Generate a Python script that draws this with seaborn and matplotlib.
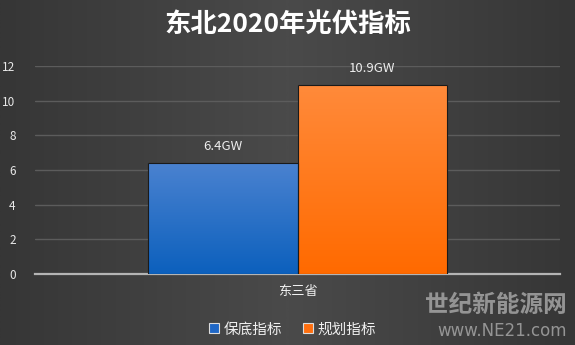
import numpy as np
import pandas as pd
import matplotlib
matplotlib.use("Agg")
import matplotlib.pyplot as plt
import seaborn as sns

categories = ["东三省"]
series_names = ["保底指标", "规划指标"]
values = [6.4, 10.9]
value_labels = ["6.4GW", "10.9GW"]
colors = ["#1f67c6", "#ff6f0f"]
yticks = [0, 2, 4, 6, 8, 10, 12]

df = pd.DataFrame({"region": categories * len(series_names),
                   "series": series_names,
                   "value": values})

sns.set_theme(style="dark")
plt.rcParams['font.family'] = ['Noto Sans CJK SC', 'DejaVu Sans']

fig = plt.figure(figsize=(5.75, 3.45), dpi=100)
fig.patch.set_facecolor("#424242")
# subtle background gradient
bg = fig.add_axes([0, 0, 1, 1], zorder=-10)
grad = np.linspace(0, 1, 256)[None, :]
grad = np.abs(grad - 0.5) * 2
bg.imshow(grad, aspect="auto", cmap=matplotlib.colors.LinearSegmentedColormap.from_list(
    "g", ["#4a4a4a", "#363636"]), extent=[0, 1, 0, 1])
bg.axis("off")

ax = fig.add_axes([0.061, 0.206, 0.913, 0.603])
ax.set_facecolor("none")
sns.barplot(data=df, x="region", y="value", hue="series", palette=colors,
            saturation=1, width=0.571, dodge=True, gap=0,
            edgecolor="#1a1a1a", linewidth=0.8,
            ax=ax, legend=True, zorder=3)

ax.set_ylim(0, 12)
ax.set_yticks(yticks)
ax.set_yticklabels([str(t) for t in yticks], color="#e8e8e8", fontsize=8.5)
ax.tick_params(axis="y", length=0, pad=14)
ax.tick_params(axis="x", length=0, pad=8)
for lab in ax.get_xticklabels():
    lab.set_color("#f0f0f0")
    lab.set_fontsize(9.5)
ax.set_xlabel("")
ax.set_ylabel("")
ax.grid(axis="y", color="#5c5c5c", linewidth=1.0, zorder=0)
ax.grid(axis="x", visible=False)
for s in ["top", "right", "left"]:
    ax.spines[s].set_visible(False)
ax.spines["bottom"].set_color("#b4b4b4")
ax.spines["bottom"].set_linewidth(1.6)

leg = ax.legend(loc="upper center", bbox_to_anchor=(0.49, -0.17), ncol=2,
                frameon=False, fontsize=10.5, handlelength=0.7, handleheight=0.7,
                handletextpad=0.3, columnspacing=1.4)
for t in leg.get_texts():
    t.set_color("#f0f0f0")
for h in leg.legend_handles:
    h.set_edgecolor("#dddddd")
    h.set_linewidth(0.8)

bars = list(ax.patches)
for patch, lbl in zip(bars, value_labels):
    x = patch.get_x() + patch.get_width() / 2
    h = patch.get_height()
    ax.annotate(lbl, (x, h), xytext=(0, 7), textcoords="offset points",
                ha="center", va="bottom", color="#eeeeee", fontsize=9.5)

# vertical gradient inside each bar, edge kept on top
top_cols = ["#4a82d0", "#ff8a3a"]
bot_cols = ["#0c60bd", "#ff6a00"]
for patch, tc, bc in zip(bars, top_cols, bot_cols):
    x0, w, h = patch.get_x(), patch.get_width(), patch.get_height()
    cm = matplotlib.colors.LinearSegmentedColormap.from_list("b", [bc, tc])
    im = ax.imshow(np.linspace(0, 1, 128)[:, None], cmap=cm, aspect="auto",
                   origin="lower", extent=[x0, x0 + w, 0, h], zorder=3)
    im.set_clip_path(patch)
    patch.set_facecolor("none")
    patch.set_zorder(4)
ax.set_xlim(-0.5, 0.5)
ax.set_ylim(0, 12)

fig.text(0.5, 0.928, "东北2020年光伏指标", ha="center", va="center",
         color="white", fontsize=19, fontweight="bold")

# watermark
fig.text(0.985, 0.115, "世纪新能源网", ha="right", va="center", color="#9a9a9a",
         fontsize=17, fontweight="bold", alpha=0.95)
fig.text(0.985, 0.04, "www.NE21.com", ha="right", va="center", color="#9a9a9a",
         fontsize=12, alpha=0.95, family=["DejaVu Sans"])

fig.savefig("out.png", dpi=100, facecolor=fig.get_facecolor())
